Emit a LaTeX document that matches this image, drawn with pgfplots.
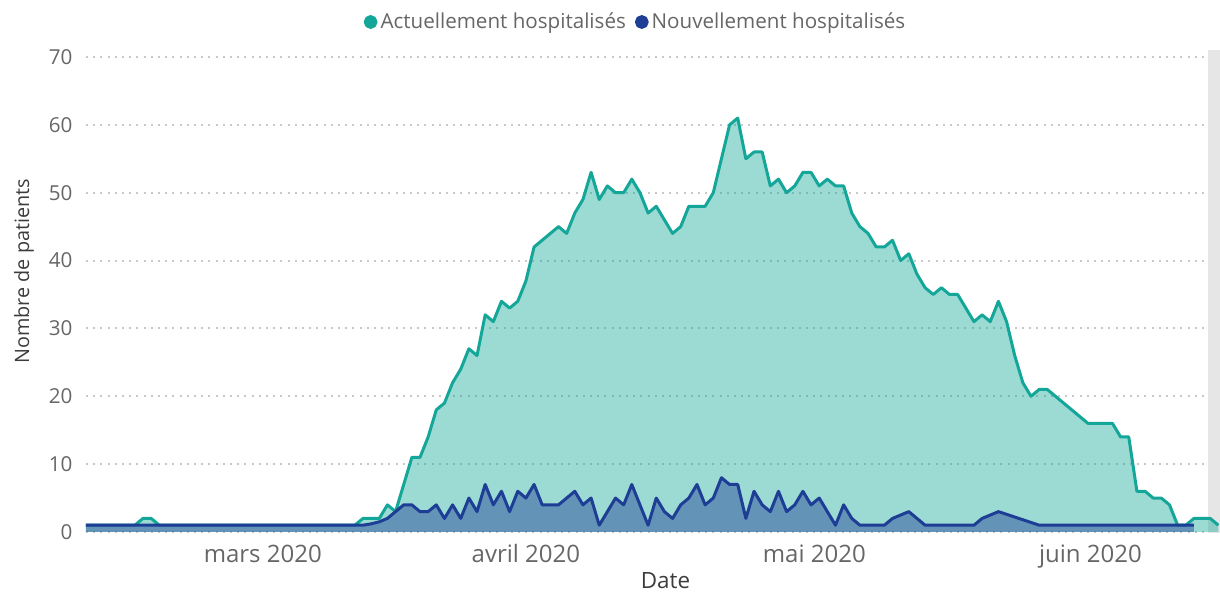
\documentclass[border=0pt]{standalone}
\usepackage{pgfplots}
\usepackage{pgfplotstable}
\pgfplotsset{compat=1.18}
\usepackage{fontspec}
\setmainfont{Open Sans}
\definecolor{tealc}{RGB}{20,166,152}
\definecolor{bluec}{RGB}{30,62,150}
\definecolor{tickc}{RGB}{102,102,102}
\definecolor{titc}{RGB}{60,60,60}
\definecolor{gridc}{RGB}{200,200,200}
\definecolor{barc}{RGB}{230,230,230}
\newcommand{\tf}{\fontsize{10.3}{12}\selectfont}
\newcommand{\xf}{\fontsize{12}{14}\selectfont}
\newcommand{\lf}{\fontsize{11.2}{13}\selectfont}
\newcommand{\yf}{\fontsize{9.9}{12}\selectfont}

\pgfplotstableread{
x y
0 1
6 1
7 2
8 2
9 1
33 1
34 2
36 2
37 4
38 3
40 11
41 11
42 14
43 18
44 19
45 22
46 24
47 27
48 26
49 32
50 31
51 34
52 33
53 34
54 37
55 42
56 43
57 44
58 45
59 44
60 47
61 49
62 53
63 49
64 51
65 50
66 50
67 52
68 50
69 47
70 48
72 44
73 45
74 48
76 48
77 50
79 60
80 61
81 55
82 56
83 56
84 51
85 52
86 50
87 51
88 53
89 53
90 51
91 52
92 51
93 51
94 47
95 45
96 44
97 42
98 42
99 43
100 40
101 41
102 38
103 36
104 35
105 36
106 35
107 35
108 33
109 31
110 32
111 31
112 34
113 31
114 26
115 22
116 20
117 21
118 21
123 16
126 16
127 14
128 14
129 6
130 6
131 5
132 5
133 4
134 1
135 1
136 2
138 2
139 1
}\actuel

\pgfplotstableread{
x y
0 1
34 1
35 1.2
36 1.5
37 2
38 3
39 4
40 4
41 3
42 3
43 4
44 2
45 4
46 2
47 5
48 3
49 7
50 4
51 6
52 3
53 6
54 5
55 7
56 4
58 4
59 5
60 6
61 4
62 5
63 1
65 5
66 4
67 7
69 1
70 5
71 3
72 2
73 4
74 5
75 7
76 4
77 5
78 8
79 7
80 7
81 2
82 6
83 4
84 3
85 6
86 3
87 4
88 6
89 4
90 5
92 1
93 4
94 2
95 1
98 1
99 2
101 3
103 1
109 1
110 2
112 3
117 1
136 1
}\nouv

\begin{document}
\begin{tikzpicture}
\useasboundingbox (-43pt,-30.5pt) rectangle (567pt,266pt);
\begin{axis}[
  at={(0pt,0pt)}, anchor=south west,
  scale only axis, width=567pt, height=237.5pt,
  xmin=0, xmax=139.2, ymin=0, ymax=70,
  clip=false,
  axis line style={draw=none},
  major tick length=0pt,
  xtick={21.7,54.0,89.4,123.3},
  xticklabels={mars 2020,avril 2020,mai 2020,juin 2020},
  ytick={0,10,...,70},
  ymajorgrids,
  grid style={gridc, line width=1pt, dash pattern=on 1pt off 2.6pt},
  /pgf/number format/assume math mode=true,
  yticklabel style={font=\tf, text=tickc, anchor=east, inner sep=0pt, xshift=-6.6pt},
  xticklabel style={font=\xf, text=tickc, anchor=base, inner sep=0pt, yshift=-15.2pt},
  xlabel={Date}, ylabel={Nombre de patients},
  xlabel style={at={(axis description cs:0.511,-0.118)}, anchor=base, font=\lf, text=titc, inner sep=0pt},
  ylabel style={at={(axis description cs:-0.0547,0.549)}, anchor=center, font=\yf, text=titc, inner sep=0pt},
  legend columns=2,
  legend cell align=left,
  legend style={draw=none, fill=none, at={(axis description cs:0.485,1.0737)}, anchor=center,
    font=\tf, text=tickc, inner sep=0pt,
    /tikz/every even column/.append style={column sep=3pt},
    nodes={inner sep=1.5pt}},
]
\fill[barc] (axis cs:137.7,-0.2) rectangle (axis cs:139.2,71);
\addplot[fill=tealc, fill opacity=0.42, draw=none, forget plot] table[x=x,y=y]{\actuel} \closedcycle;
\addplot[tealc, line width=1.5pt, line join=round,
  legend image code/.code={\fill[tealc] (2.7pt,0pt) circle (2.7pt);}] table[x=x,y=y]{\actuel};
\addlegendentry{Actuellement hospitalisés}
\addplot[fill=bluec, fill opacity=0.45, draw=none, forget plot] table[x=x,y=y]{\nouv} \closedcycle;
\addplot[bluec, line width=1.5pt, line join=round,
  legend image code/.code={\fill[bluec] (2.7pt,0pt) circle (2.7pt);}] table[x=x,y=y]{\nouv};
\addlegendentry{Nouvellement hospitalisés}
\end{axis}
\end{tikzpicture}
\end{document}
